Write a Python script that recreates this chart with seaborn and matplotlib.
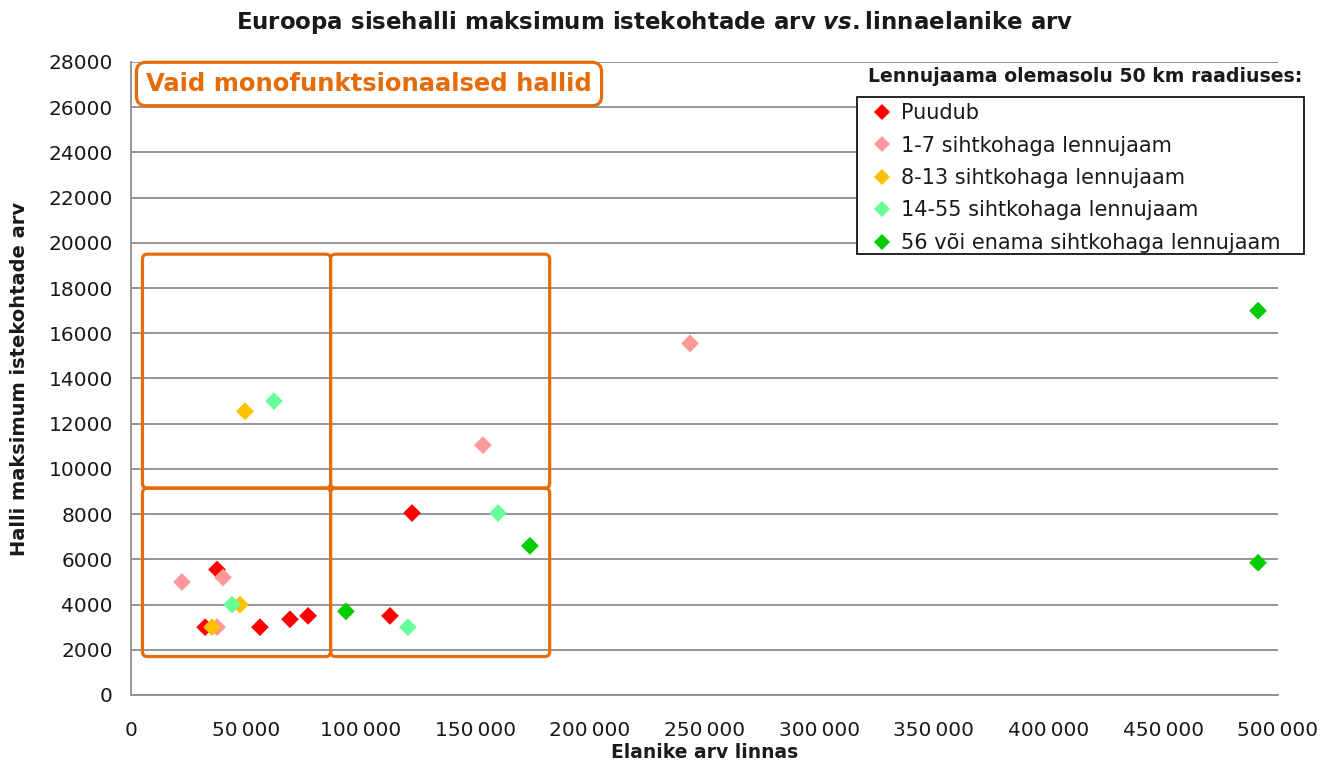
import numpy as np
import pandas as pd
import matplotlib
matplotlib.use("Agg")
import matplotlib.pyplot as plt
import seaborn as sns
from matplotlib.patches import FancyBboxPatch, Rectangle
from matplotlib.transforms import IdentityTransform
from matplotlib.ticker import FuncFormatter, MultipleLocator
from matplotlib.lines import Line2D

# ---- data ----
categories = ["Puudub", "1-7 sihtkohaga lennujaam", "8-13 sihtkohaga lennujaam",
              "14-55 sihtkohaga lennujaam", "56 või enama sihtkohaga lennujaam"]
colors = ["#FF0000", "#FF9999", "#FFC000", "#66FF99", "#00CC00"]

puudub_x = [37500, 32300, 56200, 69300, 77200, 122500, 112900]
puudub_y = [5550, 3000, 3000, 3350, 3500, 8050, 3500]
s1_7_x = [22200, 40100, 37500, 153400, 243700]
s1_7_y = [5000, 5200, 3000, 11050, 15550]
s8_13_x = [49700, 47500, 35300]
s8_13_y = [12550, 4000, 3000]
s14_55_x = [62300, 44000, 160000, 120700]
s14_55_y = [13000, 4000, 8050, 3000]
s56_x = [93700, 173900, 491300, 491300]
s56_y = [3700, 6600, 17000, 5850]

xs = [puudub_x, s1_7_x, s8_13_x, s14_55_x, s56_x]
ys = [puudub_y, s1_7_y, s8_13_y, s14_55_y, s56_y]
df = pd.DataFrame({
    "x": sum(xs, []),
    "y": sum(ys, []),
    "cat": sum([[c] * len(v) for c, v in zip(categories, xs)], []),
})

# annotation box grid (data units)
box_x = [5000, 87000, 182500]
box_y = [1700, 9150, 19500]

title_text = "Euroopa sisehalli maksimum istekohtade arv $\\mathit{vs.}$linnaelanike arv"
note_text = "Vaid monofunktsionaalsed hallid"
legend_title = "Lennujaama olemasolu 50 km raadiuses:"
xlabel = "Elanike arv linnas"
ylabel = "Halli maksimum istekohtade arv"

# ---- style ----
sns.set_theme(style="white")
plt.rcParams["font.family"] = ["DejaVu Sans"]
plt.rcParams["mathtext.fontset"] = "custom"
plt.rcParams["mathtext.it"] = "DejaVu Sans:italic:bold"
plt.rcParams["mathtext.rm"] = "DejaVu Sans:bold"

W, H = 1338, 769
fig = plt.figure(figsize=(W / 100, H / 100), dpi=100)
L, R, T, B = 131, 1278, 62, 695
ax = fig.add_axes([L / W, 1 - B / H, (R - L) / W, (B - T) / H])

ORANGE = "#E46C0A"
TXT = "#1A1A1A"

sns.scatterplot(data=df, x="x", y="y", hue="cat", hue_order=categories,
                palette=colors, marker="D", s=82, linewidth=0, ax=ax,
                legend=False, zorder=3)

ax.set_xlim(0, 500000)
ax.set_ylim(0, 28000)
ax.xaxis.set_major_locator(MultipleLocator(50000))
ax.yaxis.set_major_locator(MultipleLocator(2000))
ax.xaxis.set_major_formatter(FuncFormatter(lambda v, p: f"{int(v):,}".replace(",", "\u2009")))
ax.yaxis.set_major_formatter(FuncFormatter(lambda v, p: f"{int(v)}"))
ax.grid(axis="y", color="#8C8C8C", linewidth=1.3)
ax.set_axisbelow(True)
for s in ["top", "right"]:
    ax.spines[s].set_visible(False)
for s in ["left", "bottom"]:
    ax.spines[s].set_color("#8C8C8C")
    ax.spines[s].set_linewidth(1.3)
ax.tick_params(axis="both", labelsize=14.5, colors=TXT, length=0)
ax.tick_params(axis="x", pad=19)
ax.tick_params(axis="y", pad=13)
ax.set_xlabel(xlabel, fontsize=13.5, fontweight="bold", labelpad=2, color=TXT)
ax.set_ylabel(ylabel, fontsize=14, fontweight="bold", labelpad=14, color=TXT)

fig.text(655 / W, 1 - 22 / H, title_text, ha="center", va="center",
         fontsize=16.5, fontweight="bold", color=TXT)

# rounded orange rectangles (in display coords derived from data)
tr = ax.transData
for i in range(2):
    for j in range(2):
        (x0, y0) = tr.transform((box_x[i], box_y[j]))
        (x1, y1) = tr.transform((box_x[i + 1], box_y[j + 1]))
        p = FancyBboxPatch((x0, y0), x1 - x0, y1 - y0,
                           boxstyle="round,pad=0,rounding_size=5",
                           transform=IdentityTransform(), fill=False,
                           edgecolor=ORANGE, linewidth=2.3, zorder=2)
        fig.add_artist(p)

# note box
ax.text((369 - L) / (R - L), (B - 84) / (B - T), note_text, transform=ax.transAxes,
        ha="center", va="center", fontsize=17.5, fontweight="bold", color=ORANGE,
        bbox=dict(boxstyle="round,pad=0.4,rounding_size=0.4", facecolor="white",
                  edgecolor=ORANGE, linewidth=2.3), zorder=5)

# legend (frame drawn separately)
fig.add_artist(Rectangle((857 / W, 1 - 254 / H), (1304 - 857) / W, (254 - 97) / H,
                         transform=fig.transFigure, facecolor="white",
                         edgecolor="black", linewidth=1.2, zorder=4))
handles = [Line2D([], [], marker="D", linestyle="none", markersize=8,
                  markerfacecolor=c, markeredgewidth=0) for c in colors]
leg = fig.legend(handles, categories, loc="upper left",
                 bbox_to_anchor=(863 / W, 1 - 103 / H), bbox_transform=fig.transFigure,
                 fontsize=15, frameon=False, borderpad=0,
                 labelspacing=0.6, handlelength=1.8, handletextpad=0.0,
                 borderaxespad=0)
leg.set_zorder(5)
for t in leg.get_texts():
    t.set_color(TXT)
fig.text(1302 / W, 1 - 77 / H, legend_title, ha="right", va="center",
         fontsize=13.6, fontweight="bold", color=TXT)

fig.savefig("out.png", dpi=100, facecolor="white")
